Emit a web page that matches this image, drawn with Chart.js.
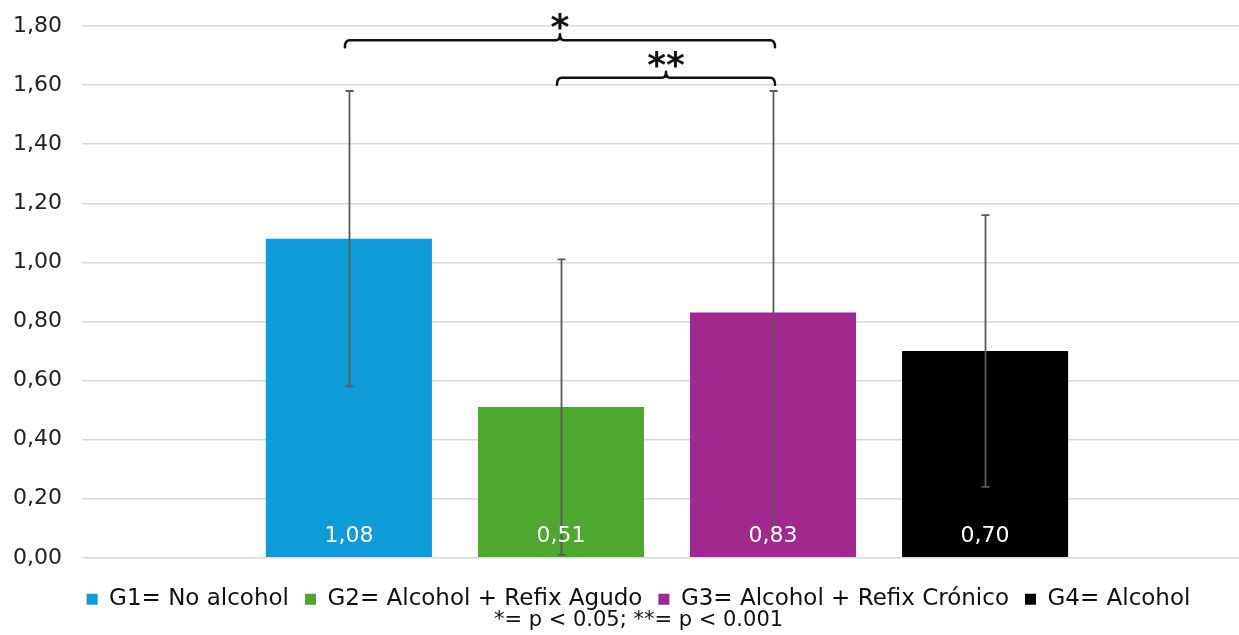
<!DOCTYPE html>
<html>
<head>
<meta charset="utf-8">
<script src="https://cdn.jsdelivr.net/npm/chart.js@4.4.1/dist/chart.umd.min.js"></script>
<style>
  html, body { margin: 0; padding: 0; background: #fff; overflow: hidden; }
  #wrap { width: 1239px; height: 635px; overflow: hidden; position: relative; }
  #box { width: 1265px; height: 635px; position: absolute; left: 0; top: 0; }
</style>
</head>
<body>
<div id="wrap"><div id="box"><canvas id="c"></canvas></div></div>
<script>
// Group names (legend) and colours
const groups = ['G1= No alcohol', 'G2= Alcohol + Refix Agudo', 'G3= Alcohol + Refix Crónico', 'G4= Alcohol'];
const groupColors = ['#0f9bd7', '#4ea72e', '#a0288f', '#000000'];
// Means and standard deviations
const means = [1.08, 0.51, 0.83, 0.70];
const sds = [0.50, 0.50, 0.75, 0.46];
// Y-axis ticks
const yTicks = [0, 0.2, 0.4, 0.6, 0.8, 1.0, 1.2, 1.4, 1.6, 1.8];
// Significance comparisons between groups (indices), bracket height in axis units
const comparisons = [
  { from: 0, to: 2, at: 1.752, mark: '*' },
  { from: 1, to: 2, at: 1.625, mark: '**' }
];
const footnote = '*= p < 0.05; **= p < 0.001';

const FONT = 'DejaVu Sans';
const fmt = v => v.toFixed(2).replace('.', ',');

// nudge the bottom legend and footnote a little to the right
const bottomShift = {
  id: 'bottomShift',
  afterLayout(chart) {
    const d = 16;
    [chart.legend, chart.titleBlock].forEach(b => {
      if (!b) return;
      b.left += d; b.right += d;
      if (b.legendHitBoxes) b.legendHitBoxes.forEach(h => { h.left += d; });
    });
  }
};

const errorBars = {
  id: 'errorBars',
  afterDatasetsDraw(chart) {
    const ctx = chart.ctx, y = chart.scales.y;
    ctx.save();
    ctx.strokeStyle = '#5a5a5a';
    ctx.lineWidth = 1.8;
    means.forEach((m, i) => {
      const bar = chart.getDatasetMeta(i).data[0];
      const x = Math.round(bar.x) + 0.5;
      const top = y.getPixelForValue(m + sds[i]);
      const bot = y.getPixelForValue(m - sds[i]);
      ctx.beginPath();
      ctx.moveTo(x, top); ctx.lineTo(x, bot);
      ctx.moveTo(x - 4, top); ctx.lineTo(x + 4, top);
      ctx.moveTo(x - 4, bot); ctx.lineTo(x + 4, bot);
      ctx.stroke();
    });
    // value labels inside the bars
    ctx.fillStyle = '#ffffff';
    ctx.font = '22px "' + FONT + '"';
    ctx.textAlign = 'center';
    ctx.textBaseline = 'middle';
    means.forEach((m, i) => {
      const bar = chart.getDatasetMeta(i).data[0];
      ctx.fillText(fmt(m), bar.x, y.getPixelForValue(0) - 22);
    });
    // significance brackets
    ctx.strokeStyle = '#111';
    ctx.fillStyle = '#111';
    ctx.lineWidth = 2.5;
    ctx.lineJoin = 'round';
    ctx.lineCap = 'round';
    comparisons.forEach(c => {
      const x1 = chart.getDatasetMeta(c.from).data[0].x - 4;
      const x2 = chart.getDatasetMeta(c.to).data[0].x + 2;
      const yy = y.getPixelForValue(c.at);
      const xm = (x1 + x2) / 2;
      ctx.beginPath();
      ctx.moveTo(x1, yy + 7);
      ctx.quadraticCurveTo(x1, yy, x1 + 5, yy);
      ctx.lineTo(xm - 4, yy);
      ctx.quadraticCurveTo(xm, yy, xm, yy - 6);
      ctx.quadraticCurveTo(xm, yy, xm + 4, yy);
      ctx.lineTo(x2 - 5, yy);
      ctx.quadraticCurveTo(x2, yy, x2, yy + 7);
      ctx.stroke();
      ctx.font = 'bold 36px "' + FONT + '"';
      ctx.textAlign = 'center';
      ctx.textBaseline = 'alphabetic';
      ctx.fillText(c.mark, xm, yy - 1);
    });
    ctx.restore();
  }
};

new Chart(document.getElementById('c'), {
  type: 'bar',
  data: {
    labels: [''],
    datasets: groups.map((g, i) => ({
      label: g,
      data: [means[i]],
      backgroundColor: groupColors[i],
      borderWidth: 0
    }))
  },
  options: {
    responsive: true,
    maintainAspectRatio: false,
    animation: false,
    datasets: { bar: { categoryPercentage: 0.725, barPercentage: 0.783 } },
    layout: { padding: { left: -7, right: 13, top: 26, bottom: 2 } },
    scales: {
      x: {
        grid: { display: false },
        border: { display: false },
        ticks: { display: false },
        afterFit: s => { s.height = 14; s.paddingTop = 0; s.paddingBottom = 0; }
      },
      y: {
        min: 0, max: 1.8,
        afterBuildTicks: s => { s.ticks = yTicks.map(v => ({ value: v })); },
        afterFit: s => { s.paddingTop = 0; s.paddingBottom = 0; },
        grid: { color: '#d9d9d9', lineWidth: 1.5, drawTicks: false },
        border: { display: false },
        ticks: {
          padding: 20,
          color: '#222',
          font: { family: FONT, size: 22 },
          callback: v => fmt(v)
        }
      }
    },
    plugins: {
      legend: {
        position: 'bottom',
        labels: {
          boxWidth: 11, boxHeight: 11, padding: 16,
          color: '#111',
          font: { family: FONT, size: 23 }
        }
      },
      title: {
        display: true,
        position: 'bottom',
        text: footnote,
        color: '#111',
        padding: { top: -13, bottom: 0 },
        font: { family: FONT, size: 21, weight: 'normal' }
      },
      tooltip: { enabled: false }
    }
  },
  plugins: [bottomShift, errorBars]
});
</script>
</body>
</html>
